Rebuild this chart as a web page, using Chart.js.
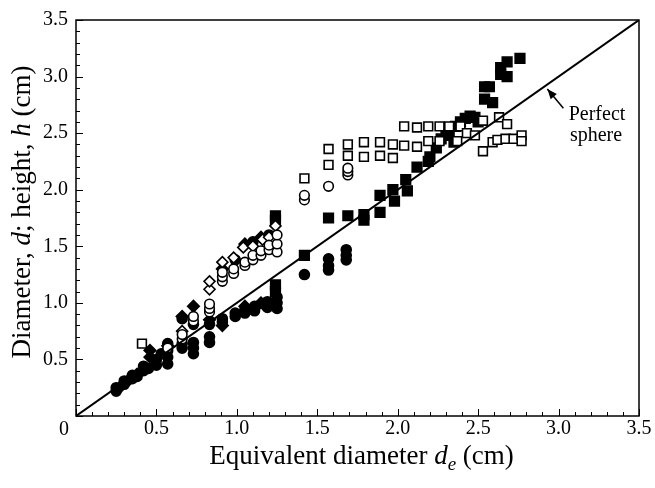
<!DOCTYPE html>
<html>
<head>
<meta charset="utf-8">
<script src="https://cdn.jsdelivr.net/npm/chart.js@4.4.0/dist/chart.umd.min.js"></script>
<style>
  html, body { margin: 0; padding: 0; background: #fff; }
  #wrap { width: 655px; height: 488px; }
</style>
</head>
<body>
<div id="wrap"><canvas id="c" width="655" height="488"></canvas></div>
<script>
// ---- Data ----
const filledSquareX = [1.24,1.24,1.24,1.24,1.42,1.57,1.69,1.79,1.79,1.89,1.89,1.97,1.98,2.05,2.06,2.12,2.19,2.20,2.24,2.27,2.30,2.32,2.35,2.36,2.39,2.42,2.45,2.48,2.50,2.54,2.59,2.54,2.57,2.64,2.68,2.64,2.68,2.76];
const filledSquareY = [1.77,1.73,1.16,1.10,1.42,1.75,1.77,1.78,1.73,1.80,1.95,2.00,1.90,2.09,1.99,2.20,2.25,2.29,2.37,2.45,2.52,2.48,2.42,2.56,2.60,2.63,2.65,2.64,2.60,2.80,2.77,2.91,2.91,3.02,3.00,3.08,3.13,3.16];

const openSquareX = [0.41,1.42,1.57,1.57,1.69,1.69,1.79,1.79,1.89,1.89,1.97,1.97,2.04,2.04,2.12,2.12,2.19,2.19,2.26,2.26,2.32,2.37,2.39,2.43,2.48,2.53,2.63,2.68,2.53,2.59,2.62,2.67,2.72,2.77,2.77];
const openSquareY = [0.64,2.10,2.22,2.36,2.30,2.40,2.29,2.42,2.30,2.42,2.28,2.40,2.39,2.56,2.38,2.55,2.43,2.56,2.43,2.56,2.56,2.43,2.56,2.50,2.48,2.61,2.64,2.58,2.34,2.42,2.44,2.45,2.45,2.48,2.43];

const filledCircleX = [0.25,0.25,0.30,0.30,0.35,0.35,0.38,0.42,0.42,0.45,0.50,0.50,0.53,0.57,0.57,0.57,0.57,0.66,0.66,0.66,0.73,0.73,0.73,0.73,0.83,0.83,0.83,0.91,0.91,0.99,0.99,1.05,1.05,1.11,1.11,1.19,1.19,1.25,1.25,1.25,0.99,1.10,1.20,1.42,1.57,1.57,1.57,1.68,1.68,1.68];
const filledCircleY = [0.22,0.25,0.28,0.31,0.33,0.36,0.35,0.40,0.44,0.42,0.45,0.50,0.55,0.46,0.52,0.58,0.64,0.60,0.64,0.86,0.55,0.60,0.65,0.81,0.65,0.70,0.81,0.83,0.86,0.88,0.91,0.91,0.94,0.93,0.97,0.96,1.01,0.95,1.00,1.05,1.38,1.54,1.60,1.25,1.29,1.33,1.39,1.38,1.42,1.47];

const openCircleX = [0.57,0.66,0.66,0.73,0.73,0.83,0.83,0.83,0.91,0.91,0.91,0.98,0.98,1.05,1.05,1.10,1.10,1.15,1.15,1.20,1.20,1.25,1.25,1.25,1.42,1.42,1.57,1.69,1.69,1.69];
const openCircleY = [0.60,0.68,0.72,0.84,0.88,0.92,0.95,0.99,1.19,1.23,1.27,1.26,1.30,1.33,1.36,1.38,1.42,1.42,1.46,1.47,1.51,1.45,1.52,1.60,1.91,1.95,2.03,2.13,2.16,2.19];

const filledDiamondX = [0.27,0.33,0.38,0.46,0.46,0.57,0.66,0.73,0.83,0.91,1.05,1.15,0.91,1.05,1.15];
const filledDiamondY = [0.25,0.32,0.37,0.52,0.58,0.62,0.88,0.97,0.85,0.80,0.97,1.00,1.30,1.52,1.58];

const openDiamondX = [0.66,0.83,0.83,0.91,0.98,1.04,1.10,1.16,1.20,1.24];
const openDiamondY = [0.75,1.12,1.19,1.36,1.40,1.49,1.50,1.56,1.58,1.68];

const sphereLineX = [0, 3.5];
const sphereLineY = [0, 3.5];

const xTickLabels = ['0','0.5','1.0','1.5','2.0','2.5','3.0','3.5'];
const yTickLabels = ['0','0.5','1.0','1.5','2.0','2.5','3.0','3.5'];
const xTitle = ['Equivalent diameter ', 'd', 'e', ' (cm)'];
const yTitle = ['Diameter, ', 'd', '; height, ', 'h', ' (cm)'];
const noteLines = ['Perfect', 'sphere'];
const arrowTip = [2.93, 2.89];
const arrowTail = [3.03, 2.72];

function pts(xs, ys) { return xs.map((x, i) => ({ x: x, y: ys[i] })); }

const SERIF = '"Liberation Serif", "DejaVu Serif", serif';

const decor = {
  id: 'decor',
  afterDraw(chart) {
    const ctx = chart.ctx;
    const xs = chart.scales.x, ys = chart.scales.y;
    const a = chart.chartArea;
    ctx.save();
    ctx.strokeStyle = '#000';
    ctx.lineWidth = 1.5;
    ctx.strokeRect(a.left, a.top, a.right - a.left, a.bottom - a.top);
    ctx.lineWidth = 1;
    for (let i = 0; i <= 35; i++) {
      const v = i / 10;
      const major = i % 5 === 0;
      const len = major ? 7 : 4;
      const px = Math.round(xs.getPixelForValue(v)) + 0.5;
      ctx.beginPath(); ctx.moveTo(px, a.bottom); ctx.lineTo(px, a.bottom - len); ctx.stroke();
      const py = Math.round(ys.getPixelForValue(v)) + 0.5;
      ctx.beginPath(); ctx.moveTo(a.left, py); ctx.lineTo(a.left + len, py); ctx.stroke();
    }
    ctx.fillStyle = '#000';
    ctx.font = '20px ' + SERIF;
    ctx.textAlign = 'center';
    ctx.textBaseline = 'alphabetic';
    ctx.fillText(xTickLabels[0], a.left - 12, a.bottom + 19);

    const fN = '27px ' + SERIF, fI = 'italic 27px ' + SERIF, fS = 'italic 19px ' + SERIF;
    const xParts = [[xTitle[0], fN, 0], [xTitle[1], fI, 0], [xTitle[2], fS, 6], [xTitle[3], fN, 0]];
    let w = 0;
    xParts.forEach(p => { ctx.font = p[1]; w += ctx.measureText(p[0]).width; });
    let cx = (a.left + a.right) / 2 - w / 2 + 4;
    const by = 464;
    ctx.textAlign = 'left';
    xParts.forEach(p => { ctx.font = p[1]; ctx.fillText(p[0], cx, by + p[2]); cx += ctx.measureText(p[0]).width; });

    const yParts = [[yTitle[0], fN], [yTitle[1], fI], [yTitle[2], fN], [yTitle[3], fI], [yTitle[4], fN]];
    w = 0;
    yParts.forEach(p => { ctx.font = p[1]; w += ctx.measureText(p[0]).width; });
    ctx.save();
    ctx.translate(30, 212);
    ctx.rotate(-Math.PI / 2);
    let yx = -w / 2;
    yParts.forEach(p => { ctx.font = p[1]; ctx.fillText(p[0], yx, 0); yx += ctx.measureText(p[0]).width; });
    ctx.restore();

    ctx.font = '20px ' + SERIF;
    ctx.textAlign = 'center';
    ctx.fillText(noteLines[0], 597, 120);
    ctx.fillText(noteLines[1], 596, 141);
    const tx = xs.getPixelForValue(arrowTip[0]), ty = ys.getPixelForValue(arrowTip[1]);
    const sx = xs.getPixelForValue(arrowTail[0]), sy = ys.getPixelForValue(arrowTail[1]);
    ctx.lineWidth = 1.5;
    ctx.beginPath(); ctx.moveTo(sx, sy); ctx.lineTo(tx, ty); ctx.stroke();
    const ang = Math.atan2(ty - sy, tx - sx);
    const hl = 10, hw = 4;
    ctx.beginPath();
    ctx.moveTo(tx, ty);
    ctx.lineTo(tx - hl * Math.cos(ang) + hw * Math.sin(ang), ty - hl * Math.sin(ang) - hw * Math.cos(ang));
    ctx.lineTo(tx - hl * Math.cos(ang) - hw * Math.sin(ang), ty - hl * Math.sin(ang) + hw * Math.cos(ang));
    ctx.closePath(); ctx.fill();
    ctx.restore();
  }
};

const common = { showLine: false, borderColor: '#000', borderWidth: 1.6 };

new Chart(document.getElementById('c'), {
  type: 'scatter',
  data: {
    datasets: [
      { type: 'line', data: pts(sphereLineX, sphereLineY), borderColor: '#000', borderWidth: 2, pointRadius: 0, fill: false, tension: 0 },
      Object.assign({ data: pts(openSquareX, openSquareY), pointStyle: 'rect', pointRadius: 6.2, backgroundColor: '#fff' }, common),
      Object.assign({ data: pts(openCircleX, openCircleY), pointStyle: 'circle', pointRadius: 4.8, backgroundColor: '#fff' }, common),
      Object.assign({ data: pts(openDiamondX, openDiamondY), pointStyle: 'rectRot', pointRadius: 5.5, backgroundColor: '#fff' }, common),
      Object.assign({ data: pts(filledCircleX, filledCircleY), pointStyle: 'circle', pointRadius: 5, backgroundColor: '#000' }, common),
      Object.assign({ data: pts(filledDiamondX, filledDiamondY), pointStyle: 'rectRot', pointRadius: 5.8, backgroundColor: '#000' }, common),
      Object.assign({ data: pts(filledSquareX, filledSquareY), pointStyle: 'rect', pointRadius: 6.8, backgroundColor: '#000' }, common)
    ]
  },
  options: {
    responsive: false,
    maintainAspectRatio: false,
    devicePixelRatio: 1,
    animation: false,
    layout: { padding: { left: 0, right: 16, top: 15, bottom: 0 } },
    plugins: { legend: { display: false }, tooltip: { enabled: false } },
    scales: {
      x: {
        type: 'linear', min: 0, max: 3.5,
        grid: { display: false, drawTicks: false },
        border: { display: false },
        afterFit: s => { s.height = 72; },
        ticks: {
          stepSize: 0.5, padding: 1, color: '#000', maxRotation: 0,
          font: { family: SERIF, size: 20 },
          callback: (v) => { const i = Math.round(v * 2); return i === 0 ? '' : xTickLabels[i]; }
        }
      },
      y: {
        type: 'linear', min: 0, max: 3.5,
        grid: { display: false, drawTicks: false },
        border: { display: false },
        afterFit: s => { s.width = 76; },
        ticks: {
          stepSize: 0.5, padding: 8, color: '#000',
          font: { family: SERIF, size: 20 },
          callback: (v) => { const i = Math.round(v * 2); return i === 0 ? '' : yTickLabels[i]; }
        }
      }
    }
  },
  plugins: [decor]
});
</script>
</body>
</html>
